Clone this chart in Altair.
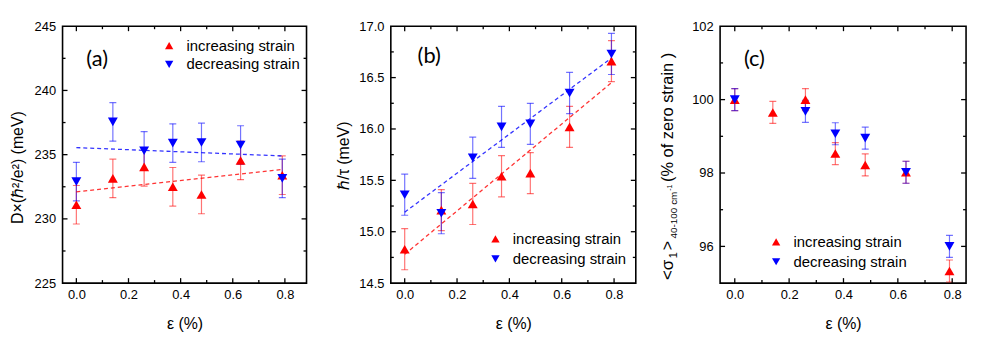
import altair as alt
import pandas as pd

FONT = "Liberation Sans"
TAGFONT = "Lato"

# ---------------- data ----------------
series_names = ["increasing strain", "decreasing strain"]
series_colors = ["#ff0000", "#0000ff"]
series_shapes = ["triangle-up", "triangle-down"]

eps = [0.0, 0.14, 0.26, 0.37, 0.48, 0.63, 0.79]
eps_c_dec = [0.0, 0.26, 0.37, 0.48, 0.63, 0.79]

# panel (a): D x (hbar^2/e^2) (meV)
a_inc = [231.1, 233.15, 234.05, 232.5, 231.9, 234.55, 233.4]
a_dec = [232.9, 237.55, 235.3, 235.9, 235.95, 235.75, 233.15]
a_err = 1.5
# panel (b): hbar/tau (meV)
b_inc = [14.83, 15.21, 15.27, 15.54, 15.57, 16.02, 16.66]
b_dec = [15.36, 15.18, 15.72, 16.02, 16.05, 16.35, 16.73]
b_err = 0.2
# panel (c): <sigma1> (% of zero strain)
c_inc = [100.0, 99.65, 100.0, 98.53, 98.22, 98.02, 95.33]
c_dec = [100.0, 99.68, 99.07, 98.95, 98.02, 96.0]
c_err = 0.3

# linear fits (end points)
fit_x = [0.0, 0.79]
a_fit_inc = [232.1, 233.85]
a_fit_dec = [235.55, 234.9]
b_fit_inc = [14.78, 16.45]
b_fit_dec = [15.19, 16.69]

# axis ticks / labels
x_labels = [0.0, 0.2, 0.4, 0.6, 0.8]
x_minor = [0.1, 0.3, 0.5, 0.7]
a_y_labels = [225, 230, 235, 240, 245]
a_y_major = [230, 235, 240]
a_y_minor = [227.5, 232.5, 237.5, 242.5]
b_y_labels = [14.5, 15.0, 15.5, 16.0, 16.5, 17.0]
b_y_major = [15.0, 15.5, 16.0, 16.5]
b_y_minor = [14.75, 15.25, 15.75, 16.25, 16.75]
c_y_labels = [96, 98, 100, 102]
c_y_major = [96, 98, 100]
c_y_minor = [97, 99, 101]

# y title pieces for panel (c)
c_title_text = ["<σ", "1", ">", "40-100 cm", "-1", "(% of zero strain )"]
c_title_size = [17, 11, 16, 10, 7, 16.5]

H = 259


def make_panel(W, xdom, ydom, ylabels, yfmt, ymajor, yminor,
               inc_x, inc_y, dec_x, dec_y, err, fits,
               ytitle, ytitle_x, ytitle_y, leg_x, leg_y, row_pad,
               tag, tag_x, tag_y, title_pieces=None):
    xs = alt.Scale(domain=xdom, nice=False, zero=False)
    ys = alt.Scale(domain=ydom, nice=False, zero=False)

    rows = []
    for s, xx, yy in ((0, inc_x, inc_y), (1, dec_x, dec_y)):
        for x, y in zip(xx, yy):
            rows.append({"eps": x, "val": y, "lo": y - err, "hi": y + err,
                         "series": series_names[s]})
    df = pd.DataFrame(rows)

    xaxis = alt.Axis(values=x_labels, format=".1f", ticks=False, tickSize=0,
                     domain=False, grid=False, labelFont=FONT, labelFontSize=13,
                     labelColor="black", labelPadding=6, title="ε (%)",
                     titleFont=FONT, titleFontSize=16, titleFontWeight="normal",
                     titleColor="black", titleX=W / 2, titleY=41,
                     titleBaseline="middle", titleAlign="center")
    yaxis = alt.Axis(values=ylabels, format=yfmt, ticks=False, tickSize=0,
                     domain=False, grid=False, labelFont=FONT, labelFontSize=13,
                     labelColor="black", labelPadding=7, title=ytitle,
                     titleFont=FONT, titleFontSize=16, titleFontWeight="normal",
                     titleColor="black", titleAngle=270, titleX=ytitle_x,
                     titleY=ytitle_y, titleAlign="center", titleBaseline="middle")

    X = lambda f: alt.X(f, scale=xs, axis=xaxis)
    Y = lambda f: alt.Y(f, scale=ys, axis=yaxis)

    layers = []
    # error bars
    for s in range(2):
        sub = df[df["series"] == series_names[s]]
        layers.append(
            alt.Chart(sub).mark_rule(color=series_colors[s], opacity=0.55,
                                     strokeWidth=1.2, clip=True).encode(
                x=X("eps:Q"), y=Y("lo:Q"), y2="hi:Q")
        )
        caps = sub.melt(id_vars=["eps", "series"], value_vars=["lo", "hi"],
                        var_name="end", value_name="cap")
        layers.append(
            alt.Chart(caps).mark_tick(color=series_colors[s], opacity=0.55,
                                      orient="horizontal", size=7, thickness=1.2,
                                      clip=True).encode(
                x=X("eps:Q"), y=Y("cap:Q"))
        )
    # fits
    if fits is not None:
        for s in range(2):
            fdf = pd.DataFrame({"eps": fit_x, "fit": fits[s]})
            layers.append(
                alt.Chart(fdf).mark_line(color=series_colors[s], opacity=0.8,
                                         strokeDash=[4, 3], strokeWidth=1.3).encode(
                    x=X("eps:Q"), y=Y("fit:Q"))
            )
    # points
    leg = alt.Legend(orient="none", legendX=leg_x, legendY=leg_y, title=None,
                     labelFont=FONT, labelFontSize=15, labelColor="black",
                     symbolSize=70, symbolStrokeWidth=0, symbolOpacity=1,
                     labelOffset=10, rowPadding=row_pad, padding=0)
    layers.append(
        alt.Chart(df).mark_point(filled=True, size=100, opacity=1,
                                 strokeWidth=0, clip=True).encode(
            x=X("eps:Q"), y=Y("val:Q"),
            color=alt.Color("series:N", sort=series_names,
                            scale=alt.Scale(domain=series_names, range=series_colors),
                            legend=leg),
            shape=alt.Shape("series:N", sort=series_names,
                            scale=alt.Scale(domain=series_names, range=series_shapes),
                            legend=leg))
    )
    # inward ticks
    for vals, ln in ((x_labels, 5), (x_minor, 3)):
        tdf = pd.DataFrame({"t": vals})
        layers.append(alt.Chart(tdf).mark_rule(color="black", strokeWidth=1.3).encode(
            x=X("t:Q"), y=alt.value(H), y2=alt.value(H - ln)))
        layers.append(alt.Chart(tdf).mark_rule(color="black", strokeWidth=1.3).encode(
            x=X("t:Q"), y=alt.value(0), y2=alt.value(ln)))
    for vals, ln in ((ymajor, 5), (yminor, 3)):
        tdf = pd.DataFrame({"t": vals})
        layers.append(alt.Chart(tdf).mark_rule(color="black", strokeWidth=1.3).encode(
            y=Y("t:Q"), x=alt.value(0), x2=alt.value(ln)))
        layers.append(alt.Chart(tdf).mark_rule(color="black", strokeWidth=1.3).encode(
            y=Y("t:Q"), x=alt.value(W), x2=alt.value(W - ln)))
    # panel tag
    layers.append(alt.Chart(pd.DataFrame({"tag": [tag]})).mark_text(
        font=TAGFONT, fontSize=22, align="left", baseline="middle", color="black").encode(
        text="tag:N", x=alt.value(tag_x), y=alt.value(tag_y)))
    # composite y title (panel c)
    if title_pieces is not None:
        for txt, fs, px, py in title_pieces:
            layers.append(alt.Chart(pd.DataFrame({"t": [txt]})).mark_text(
                font=FONT, fontSize=fs, angle=270, align="left", baseline="middle",
                color="black").encode(text="t:N", x=alt.value(px), y=alt.value(py)))

    return alt.layer(*layers).properties(width=W, height=H)


pa = make_panel(246, [-0.053, 0.883], [225, 245], a_y_labels, "d", a_y_major, a_y_minor,
                eps, a_inc, eps, a_dec, a_err, (a_fit_inc, a_fit_dec),
                "D×(ℏ²/e²) (meV)", -45, 142, 100, 12, 3, "(a)", 24, 33)
pb = make_panel(247, [-0.053, 0.883], [14.5, 17.0], b_y_labels, ".1f", b_y_major, b_y_minor,
                eps, b_inc, eps, b_dec, b_err, (b_fit_inc, b_fit_dec),
                "ℏ/τ (meV)", -48, 130, 98, 207, 4, "(b)", 27, 30)
c_pos = [(-52, 256), (-46, 234), (-52, 226), (-46, 214), (-50, 166), (-52, 157)]
pc = make_panel(248, [-0.054, 0.851], [95, 102], c_y_labels, "d", c_y_major, c_y_minor,
                eps, c_inc, eps_c_dec, c_dec, c_err, None,
                "", -52, 130, 49, 210, 4, "(c)", 24, 33,
                title_pieces=[(t, s, p[0], p[1]) for t, s, p in zip(c_title_text, c_title_size, c_pos)])

chart = alt.hconcat(pa, pb, pc, spacing=85, bounds="flush").resolve_scale(
    x="independent", y="independent", color="independent", shape="independent"
).resolve_legend(color="independent", shape="independent").configure_view(
    stroke="black", strokeWidth=1.6
).properties(
    padding={"left": 1, "top": 10, "right": 5, "bottom": 5},
    background="white"
)

chart.save("out.html", embed_options={"renderer": "svg", "actions": False})
